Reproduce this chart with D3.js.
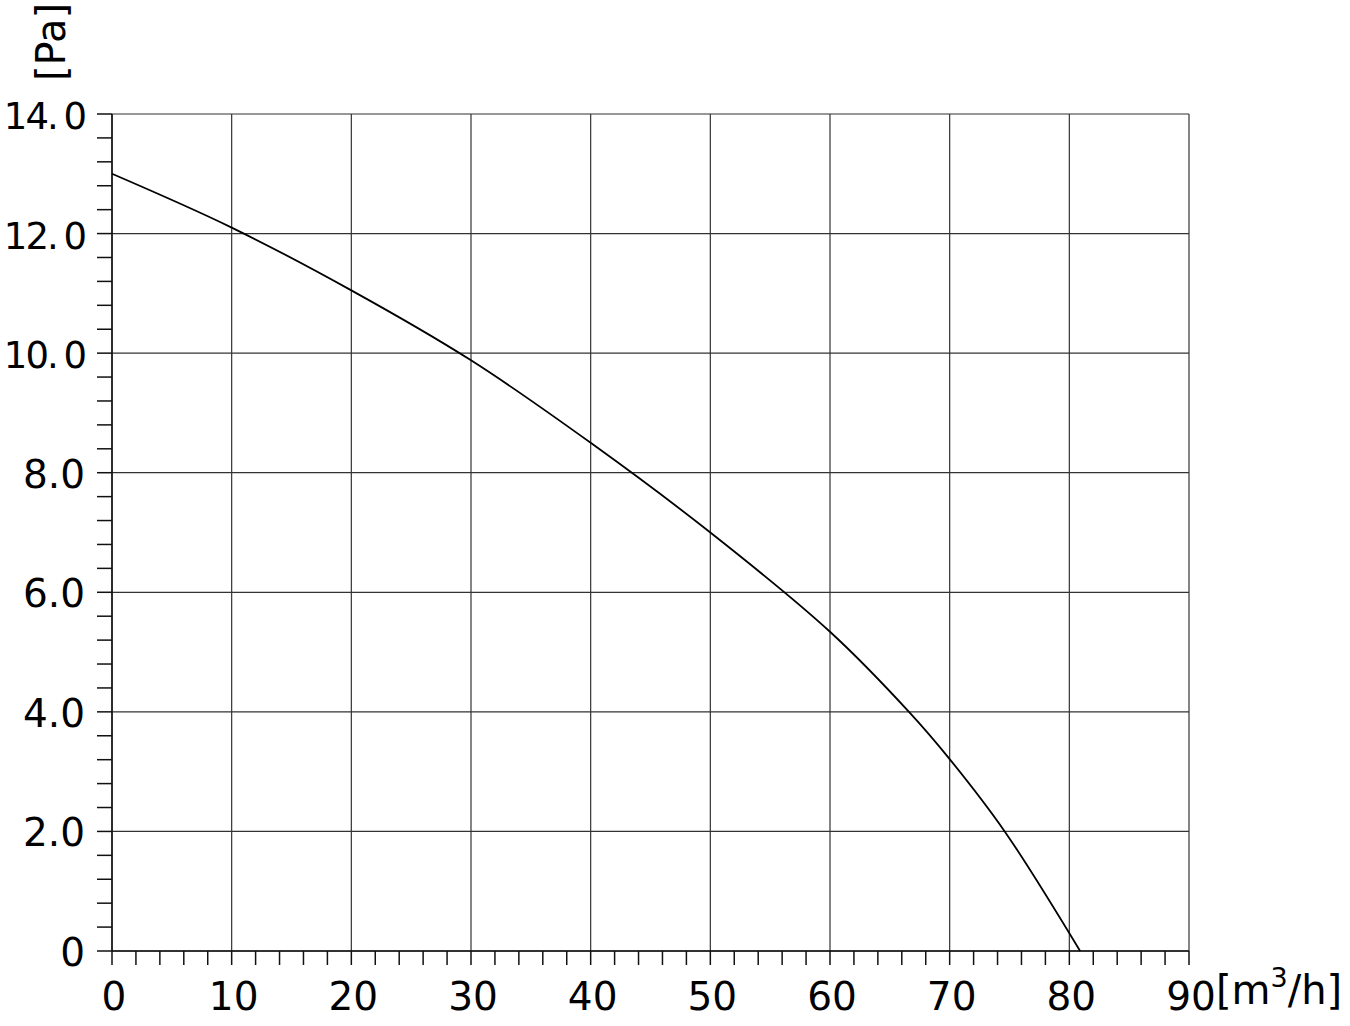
<!DOCTYPE html>
<html>
<head>
<meta charset="utf-8">
<script src="https://cdn.jsdelivr.net/npm/d3@7"></script>
<style>
body { margin: 0; background: #fff; }
text { font-family: Verdana, "DejaVu Sans", sans-serif; fill: #000; }
</style>
</head>
<body>
<script>
// curve
var flow = [0, 10, 20, 30, 40, 50, 60, 66.6, 70, 74.6, 80.9];
var pressure = [13.0, 12.1, 11.05, 9.88, 8.5, 7.0, 5.34, 4.0, 3.21, 2.0, 0];
var xTicks = [0, 10, 20, 30, 40, 50, 60, 70, 80, 90];
var yTicks = [0, 2, 4, 6, 8, 10, 12, 14];
var yLabels = ["0", "2.0", "4.0", "6.0", "8.0", "10. 0", "12. 0", "14. 0"];

var width = 1350, height = 1026;
var x0 = 112, x1 = 1189, y0 = 951, y1 = 114;

var svg = d3.select("body").append("svg")
    .attr("width", width)
    .attr("height", height);

var x = d3.scaleLinear().domain([0, 90]).range([x0, x1]);
var y = d3.scaleLinear().domain([0, 14]).range([y0, y1]);

// grid
svg.append("g").selectAll("line").data(xTicks).enter().append("line")
    .attr("x1", d => x(d)).attr("x2", d => x(d))
    .attr("y1", y1).attr("y2", y0)
    .attr("stroke", "#333").attr("stroke-width", 1.2);
svg.append("g").selectAll("line").data(yTicks).enter().append("line")
    .attr("x1", x0).attr("x2", x1)
    .attr("y1", d => y(d)).attr("y2", d => y(d))
    .attr("stroke", "#333").attr("stroke-width", 1.2);

// minor ticks
var xMinor = d3.range(0, 90.01, 2);
svg.append("g").selectAll("line").data(xMinor).enter().append("line")
    .attr("x1", d => x(d)).attr("x2", d => x(d))
    .attr("y1", y0).attr("y2", y0 + 14)
    .attr("stroke", "#111").attr("stroke-width", 1.5);
var yMinor = d3.range(0, 14.01, 0.4);
svg.append("g").selectAll("line").data(yMinor).enter().append("line")
    .attr("x1", x0 - 15).attr("x2", x0)
    .attr("y1", d => y(d)).attr("y2", d => y(d))
    .attr("stroke", "#111").attr("stroke-width", 1.5);

// axis lines
svg.append("line").attr("x1", x0).attr("x2", x0).attr("y1", y1).attr("y2", y0)
    .attr("stroke", "#111").attr("stroke-width", 1.5);
svg.append("line").attr("x1", x0).attr("x2", x1).attr("y1", y0).attr("y2", y0)
    .attr("stroke", "#111").attr("stroke-width", 1.5);

// tick labels
svg.append("g").selectAll("text").data(xTicks).enter().append("text")
    .attr("x", d => x(d) + 2).attr("y", 1010)
    .attr("text-anchor", "middle")
    .style("font-size", "39px")
    .text(d => d);
svg.append("g").selectAll("text").data(yTicks).enter().append("text")
    .attr("x", 85).attr("y", d => y(d) + 15)
    .attr("text-anchor", "end")
    .style("font-size", d => d >= 10 ? "37px" : "39px")
    .style("word-spacing", "-3px")
    .style("letter-spacing", d => d >= 10 ? "-2px" : "0px")
    .text((d, i) => yLabels[i]);

// axis titles
svg.append("text")
    .attr("transform", "translate(65,42) rotate(-90)")
    .attr("text-anchor", "middle")
    .style("font-size", "40px")
    .text("[Pa]");
var xt = svg.append("text")
    .attr("x", 1216).attr("y", 1004)
    .style("font-size", "40px");
xt.append("tspan").text("[m");
xt.append("tspan").attr("dy", -17).style("font-size", "27px").text("3");
xt.append("tspan").attr("dy", 17).text("/h]");

// curve
var pts = flow.map((f, i) => [f, pressure[i]]);
var line = d3.line()
    .x(d => x(d[0])).y(d => y(d[1]))
    .curve(d3.curveCatmullRom.alpha(0.5));
svg.append("path")
    .datum(pts)
    .attr("d", line)
    .attr("fill", "none")
    .attr("stroke", "#000")
    .attr("stroke-width", 1.8);
</script>
</body>
</html>
